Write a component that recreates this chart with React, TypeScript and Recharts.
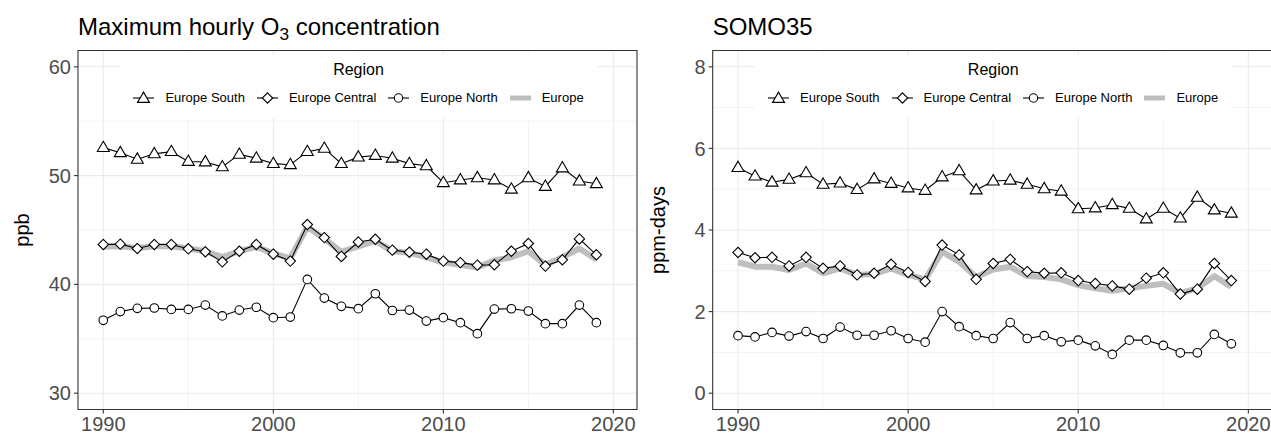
import React from 'react';
import { LineChart, Line, XAxis, YAxis, CartesianGrid, Legend, ReferenceArea } from 'recharts';

const FONT = '"Liberation Sans", Arial, Helvetica, sans-serif';

const years = [1990, 1991, 1992, 1993, 1994, 1995, 1996, 1997, 1998, 1999, 2000, 2001, 2002, 2003, 2004, 2005, 2006, 2007, 2008, 2009, 2010, 2011, 2012, 2013, 2014, 2015, 2016, 2017, 2018, 2019];

const o3South = [52.57, 52.1, 51.5, 52.0, 52.2, 51.3, 51.25, 50.8, 51.95, 51.6, 51.1, 51.0, 52.2, 52.5, 51.1, 51.7, 51.85, 51.6, 51.1, 50.9, 49.35, 49.6, 49.8, 49.6, 48.75, 49.8, 49.0, 50.7, 49.5, 49.25];
const o3Central = [43.67, 43.7, 43.3, 43.67, 43.67, 43.27, 43.0, 42.07, 43.05, 43.67, 42.78, 42.14, 45.5, 44.3, 42.57, 43.9, 44.15, 43.15, 42.96, 42.78, 42.14, 42.0, 41.77, 41.8, 43.05, 43.76, 41.68, 42.26, 44.18, 42.72];
const o3North = [36.7, 37.5, 37.8, 37.83, 37.7, 37.7, 38.1, 37.1, 37.64, 37.9, 36.94, 37.0, 40.46, 38.74, 37.98, 37.77, 39.14, 37.6, 37.64, 36.63, 36.94, 36.48, 35.47, 37.73, 37.76, 37.55, 36.39, 36.39, 38.1, 36.48];
const o3Europe = [43.45, 43.5, 43.35, 43.5, 43.5, 43.3, 43.05, 42.5, 43.05, 43.45, 42.85, 42.4, 45.3, 44.2, 43.0, 43.5, 44.0, 43.05, 42.9, 42.5, 42.0, 41.8, 41.55, 42.2, 42.5, 43.05, 41.8, 42.5, 43.3, 42.3];

const somoSouth = [5.53, 5.32, 5.17, 5.24, 5.40, 5.12, 5.15, 4.99, 5.25, 5.14, 5.03, 4.97, 5.30, 5.45, 4.98, 5.20, 5.22, 5.12, 5.01, 4.95, 4.52, 4.54, 4.62, 4.53, 4.27, 4.53, 4.29, 4.80, 4.49, 4.41];
const somoCentral = [3.45, 3.32, 3.33, 3.12, 3.33, 3.06, 3.12, 2.90, 2.94, 3.16, 2.96, 2.74, 3.63, 3.39, 2.79, 3.18, 3.28, 2.98, 2.94, 2.95, 2.76, 2.69, 2.63, 2.55, 2.82, 2.95, 2.43, 2.55, 3.18, 2.76];
const somoNorth = [1.41, 1.38, 1.49, 1.40, 1.51, 1.34, 1.62, 1.42, 1.42, 1.53, 1.34, 1.25, 2.00, 1.63, 1.41, 1.34, 1.73, 1.34, 1.41, 1.26, 1.30, 1.16, 0.95, 1.30, 1.30, 1.17, 0.99, 0.99, 1.44, 1.21];
const somoEurope = [3.21, 3.10, 3.10, 3.02, 3.18, 2.94, 3.06, 2.90, 2.92, 3.06, 2.90, 2.79, 3.47, 3.22, 2.85, 3.03, 3.10, 2.87, 2.85, 2.79, 2.65, 2.57, 2.51, 2.57, 2.63, 2.68, 2.45, 2.57, 2.87, 2.61];

const xTicks = [1990, 2000, 2010, 2020];
const xMinor = [1995, 2005, 2015];
const o3Ticks = [30, 40, 50, 60];
const o3Minor = [35, 45, 55];
const somoTicks = [0, 2, 4, 6, 8];
const somoMinor = [1, 3, 5, 7];
const legendTitle = 'Region';
const regionNames = ['Europe South', 'Europe Central', 'Europe North', 'Europe'];

const X_DOMAIN: [number, number] = [1988.512, 2021.39];
const O3_DOMAIN: [number, number] = [28.5, 61.5];
const SOMO_DOMAIN: [number, number] = [-0.4, 8.4];

function buildRows(south: number[], central: number[], north: number[], europe: number[]) {
  return years.map((year, i) => ({ year, south: south[i], central: central[i], north: north[i], europe: europe[i] }));
}

const o3Rows = buildRows(o3South, o3Central, o3North, o3Europe);
const somoRows = buildRows(somoSouth, somoCentral, somoNorth, somoEurope);

const triPath = (cx: number, cy: number) => `M${cx},${cy - 6.4} L${cx + 6},${cy + 3.9} L${cx - 6},${cy + 3.9} Z`;
const diaPath = (cx: number, cy: number) => `M${cx},${cy - 5.2} L${cx + 5.2},${cy} L${cx},${cy + 5.2} L${cx - 5.2},${cy} Z`;

const TriDot = (props: any) => {
  const { cx, cy, index } = props;
  if (cx == null || cy == null) return <g key={`t${index}`} />;
  return <path key={`t${index}`} d={triPath(cx, cy)} fill="#fff" stroke="#000" strokeWidth={1.1} />;
};
const DiaDot = (props: any) => {
  const { cx, cy, index } = props;
  if (cx == null || cy == null) return <g key={`d${index}`} />;
  return <path key={`d${index}`} d={diaPath(cx, cy)} fill="#fff" stroke="#000" strokeWidth={1.1} />;
};
const CircDot = (props: any) => {
  const { cx, cy, index } = props;
  if (cx == null || cy == null) return <g key={`c${index}`} />;
  return <circle key={`c${index}`} cx={cx} cy={cy} r={4.3} fill="#fff" stroke="#000" strokeWidth={1.1} />;
};

const LegendKey = ({ kind }: { kind: number }) => (
  <svg width={21} height={14} style={{ display: 'block', marginRight: 11 }}>
    {kind === 3 ? (
      <line x1={0} y1={7} x2={21} y2={7} stroke="#bebebe" strokeWidth={5} />
    ) : (
      <g>
        <line x1={0} y1={7} x2={21} y2={7} stroke="#000" strokeWidth={1.1} />
        {kind === 0 && <path d={triPath(10.5, 7.5)} fill="#fff" stroke="#000" strokeWidth={1.1} />}
        {kind === 1 && <path d={diaPath(10.5, 7)} fill="#fff" stroke="#000" strokeWidth={1.1} />}
        {kind === 2 && <circle cx={10.5} cy={7} r={4.2} fill="#fff" stroke="#000" strokeWidth={1.1} />}
      </g>
    )}
  </svg>
);

const LegendBox = () => (
  <div style={{ position: 'relative', width: 477, height: 63, background: '#fff', fontFamily: FONT, color: '#000' }}>
    <div style={{ position: 'absolute', top: 5, left: 0, width: '100%', textAlign: 'center', fontSize: 16, lineHeight: '20px' }}>{legendTitle}</div>
    <div style={{ position: 'absolute', top: 34, left: 0, width: '100%', display: 'flex', justifyContent: 'center', alignItems: 'center', fontSize: 13, lineHeight: '18px', whiteSpace: 'nowrap' }}>
      {regionNames.map((name, i) => (
        <div key={name} style={{ display: 'flex', alignItems: 'center', marginRight: i < regionNames.length - 1 ? 12 : 0 }}>
          <LegendKey kind={i} />
          <span>{name}</span>
        </div>
      ))}
    </div>
  </div>
);

type PanelProps = {
  left: number;
  width: number;
  yAxisWidth: number;
  marginRight: number;
  rows: any[];
  yDomain: [number, number];
  yTicks: number[];
  yMinor: number[];
  yTitle: string;
  yTitleX: number;
  legendLeft: number;
  title: React.ReactNode;
};

const Panel = (p: PanelProps) => {
  const plotTop = 50.5;
  const plotBottom = 409.5;
  const cy = (plotTop + plotBottom) / 2;
  return (
    <div style={{ position: 'absolute', left: p.left, top: 0, width: p.width, height: 436 }}>
      <div style={{ position: 'absolute', left: p.yAxisWidth, top: 13, fontFamily: FONT, fontSize: 24, lineHeight: '28px', color: '#000', whiteSpace: 'nowrap' }}>
        {p.title}
      </div>
      <LineChart
        width={p.width}
        height={436}
        data={p.rows}
        margin={{ top: plotTop, right: p.marginRight, bottom: 0, left: 0 }}
      >
        <CartesianGrid horizontalValues={p.yMinor} verticalValues={xMinor} stroke="#f2f2f2" strokeWidth={1} />
        <CartesianGrid horizontalValues={p.yTicks} verticalValues={xTicks} stroke="#ebebeb" strokeWidth={1.1} />
        <XAxis
          dataKey="year"
          type="number"
          domain={X_DOMAIN}
          ticks={xTicks}
          allowDataOverflow
          axisLine={false}
          tickLine={{ stroke: '#333333', strokeWidth: 1.1 }}
          tickSize={4}
          tickMargin={3}
          height={26.5}
          tick={{ fill: '#4d4d4d', fontSize: 20, fontFamily: FONT }}
        />
        <YAxis
          type="number"
          domain={p.yDomain}
          ticks={p.yTicks}
          allowDataOverflow
          axisLine={false}
          tickLine={{ stroke: '#333333', strokeWidth: 1.1 }}
          tickSize={4}
          tickMargin={3}
          width={p.yAxisWidth}
          tick={{ fill: '#4d4d4d', fontSize: 20, fontFamily: FONT }}
          label={{
            content: () => (
              <text
                x={p.yTitleX}
                y={cy}
                transform={`rotate(-90 ${p.yTitleX} ${cy})`}
                textAnchor="middle"
                dominantBaseline="central"
                fontSize={20}
                fontFamily={FONT}
                fill="#000"
              >
                {p.yTitle}
              </text>
            ),
          }}
        />
        <ReferenceArea
          x1={X_DOMAIN[0]}
          x2={X_DOMAIN[1]}
          y1={p.yDomain[0]}
          y2={p.yDomain[1]}
          fill="none"
          fillOpacity={0}
          stroke="#333333"
          strokeWidth={1.1}
          ifOverflow="visible"
        />
        <Legend
          layout="horizontal"
          verticalAlign="middle"
          align="center"
          wrapperStyle={{ left: p.legendLeft, top: 55, width: 477, height: 63 }}
          content={() => <LegendBox />}
        />
        <Line dataKey="europe" type="linear" stroke="#bebebe" strokeWidth={6} strokeLinejoin="round" dot={false} activeDot={false} isAnimationActive={false} />
        <Line dataKey="south" type="linear" stroke="#000" strokeWidth={1.1} dot={TriDot} activeDot={false} isAnimationActive={false} />
        <Line dataKey="central" type="linear" stroke="#000" strokeWidth={1.1} dot={DiaDot} activeDot={false} isAnimationActive={false} />
        <Line dataKey="north" type="linear" stroke="#000" strokeWidth={1.1} dot={CircDot} activeDot={false} isAnimationActive={false} />
      </LineChart>
    </div>
  );
};

export default function App() {
  return (
    <div style={{ position: 'absolute', left: 0, top: 0, width: 1271, height: 436, overflow: 'hidden', background: '#fff' }}>
      <Panel
        left={0}
        width={650}
        yAxisWidth={78}
        marginRight={13}
        rows={o3Rows}
        yDomain={O3_DOMAIN}
        yTicks={o3Ticks}
        yMinor={o3Minor}
        yTitle="ppb"
        yTitleX={22}
        legendLeft={120}
        title={<span>Maximum hourly O<span style={{ fontSize: '0.72em', position: 'relative', top: '0.3em' }}>3</span> concentration</span>}
      />
      <Panel
        left={640}
        width={632}
        yAxisWidth={72.7}
        marginRight={0}
        rows={somoRows}
        yDomain={SOMO_DOMAIN}
        yTicks={somoTicks}
        yMinor={somoMinor}
        yTitle="ppm-days"
        yTitleX={18}
        legendLeft={114.7}
        title={<span>SOMO35</span>}
      />
    </div>
  );
}
